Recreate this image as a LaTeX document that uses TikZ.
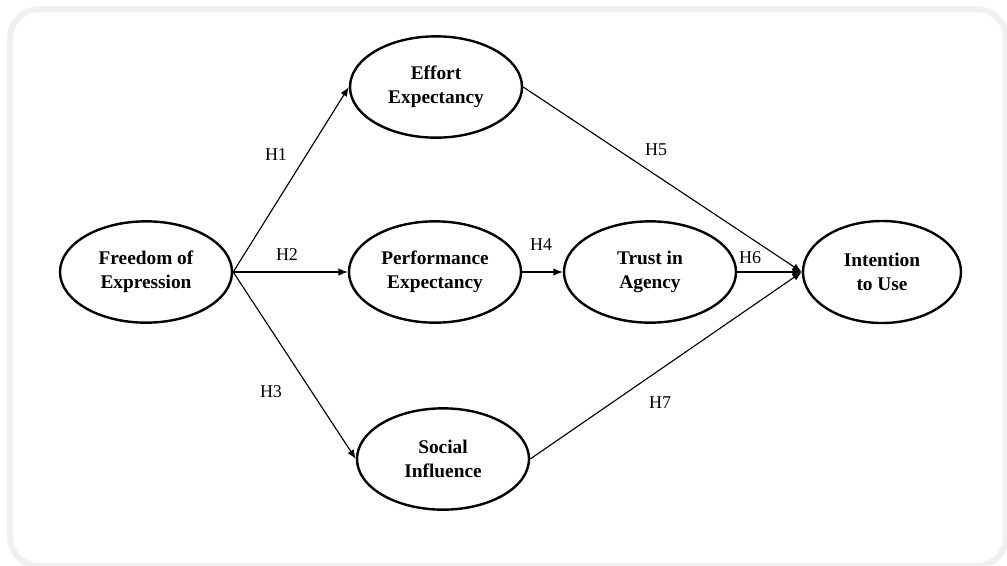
\documentclass[tikz,border=0pt]{standalone}
\usepackage{fontspec}
\setmainfont{Liberation Serif}
\usetikzlibrary{shapes.geometric,arrows.meta}
\begin{document}
\begin{tikzpicture}[x=0.75pt,y=-0.75pt,
  construct/.style={ellipse,draw=black,line width=1.8pt,inner sep=0pt,
    align=center,font=\fontsize{14.5}{18}\selectfont\bfseries,
    minimum width=129pt,minimum height=76pt},
  link/.style={line width=0.85pt,-{Latex[length=7pt,width=5.5pt]}},
  hyp/.style={font=\fontsize{13.5}{16}\selectfont}]
\useasboundingbox (0,0) rectangle (1007,565);
\fill[white] (0,0) rectangle (1007,565);
\draw[draw=black!6,line width=4.5pt,rounded corners=22pt] (10,9) rectangle (1006,566);

\node[construct] (foe) at (146,272) {Freedom of\\Expression};
\node[construct] (ee) at (436,87) {Effort\\Expectancy};
\node[construct] (pe) at (435,272) {Performance\\Expectancy};
\node[construct] (ta) at (650,272) {Trust in\\Agency};
\node[construct,minimum width=118.5pt,minimum height=76.5pt] (iu) at (882,272) {Intention\\to Use};
\node[construct] (si) at (443,459) {Social\\Influence};

\draw[link] (foe.east) -- (ee.west);
\draw[link] (foe.east) -- (pe.west);
\draw[link] (foe.east) -- (si.west);
\draw[link] (pe.east) -- (ta.west);
\draw[link] (ee.east) -- (iu.west);
\draw[link] (ta.east) -- (iu.west);
\draw[link] (si.east) -- (iu.west);

\node[hyp] (h1) at (276,155) {H1};
\node[hyp] (h2) at (287,255) {H2};
\node[hyp] (h3) at (271,392) {H3};
\node[hyp] (h4) at (541,245) {H4};
\node[hyp] (h5) at (656,150) {H5};
\node[hyp] (h6) at (750,258) {H6};
\node[hyp] (h7) at (660,403) {H7};
\end{tikzpicture}
\end{document}
